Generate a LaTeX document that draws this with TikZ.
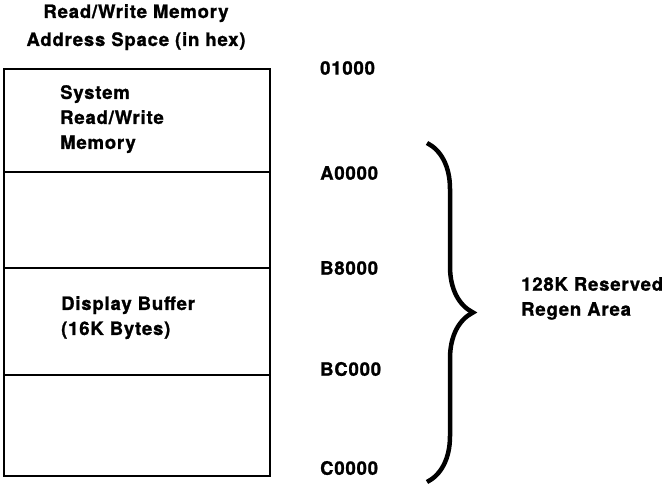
\documentclass[tikz,border=0pt]{standalone}
\usepackage{fontspec}
\setmainfont{TeX Gyre Heros}[LetterSpace=4.5, BoldFeatures={FakeBold=1.2}]
\usetikzlibrary{positioning, decorations.pathreplacing}

\begin{document}
\begin{tikzpicture} [
    x=1pt, y=-1pt,
    cell/.style = {draw, line width=1.8pt, minimum width=266pt, inner sep=0pt, outer sep=0pt},
     txt/.style = {font=\fontsize{18.5}{25}\selectfont\bfseries, align=left, inner sep=0pt},
    addr/.style = {txt, anchor=west},
   brace/.style = {decorate, decoration={brace, amplitude=46pt, aspect=0.5}, line width=4.5pt}
]
  \useasboundingbox (0,0) rectangle (669,484);

  % Title
  \node[txt, align=center, anchor=north, font=\fontsize{18.5}{28}\selectfont\bfseries] (title) at (136,4)
    {Read/Write Memory\\Address Space (in hex)};

  % Memory map
  \node[cell, minimum height=103pt, anchor=north west] (sysmem) at (4,69) {};
  \node[cell, minimum height=96pt]  (free1) [below=0pt of sysmem] {};
  \node[cell, minimum height=107pt] (dispbuf) [below=0pt of free1] {};
  \node[cell, minimum height=101pt] (free2) [below=0pt of dispbuf] {};

  \node[txt, anchor=north west] (systxt) at (60,85) {System\\Read/Write\\Memory};
  \node[txt, anchor=north west] (buftxt) at (61,296) {Display Buffer\\(16K Bytes)};

  % Addresses
  \foreach \y/\a in {68/01000, 173/A0000, 268/B8000, 369/BC000, 468/C0000}
    \node[addr] (addr-\a) at (320,\y) {\a};

  % Brace
  \coordinate (btop) at (427,143);
  \coordinate (bbot) at (427,482);
  \draw[brace] (btop) -- (bbot);

  \node[txt, anchor=north west] (regen) at (521,277) {128K Reserved\\Regen Area};

\end{tikzpicture}
\end{document}
